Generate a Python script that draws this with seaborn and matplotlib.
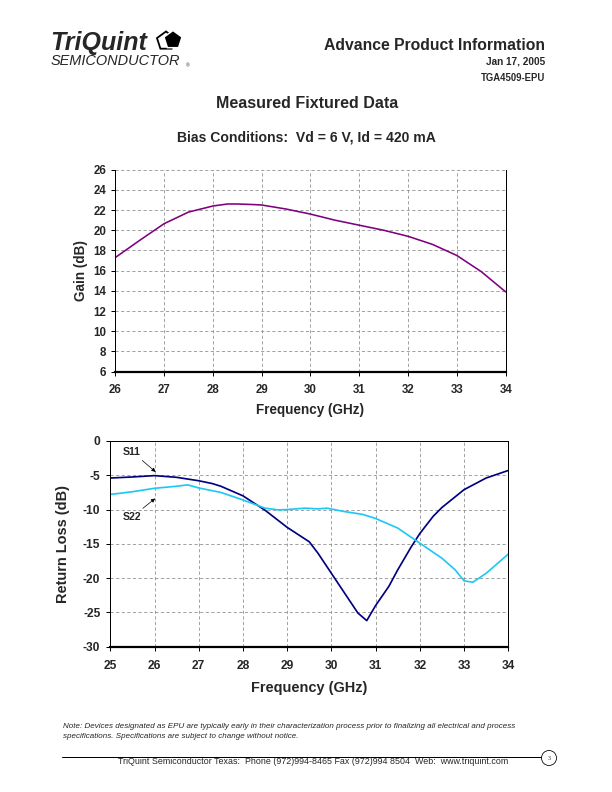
import matplotlib
matplotlib.use("Agg")
import matplotlib.pyplot as plt
import matplotlib.patches as mpatches
import numpy as np
import pandas as pd
import seaborn as sns

# Gain vs frequency (measured fixtured data)
gain_freq = [26.0, 26.5, 27.0, 27.5, 28.0, 28.3, 28.5, 28.8, 29.0, 29.5,
             30.0, 30.5, 31.0, 31.5, 32.0, 32.5, 33.0, 33.5, 34.0]
gain_db = [17.3, 19.0, 20.65, 21.8, 22.4, 22.6, 22.6, 22.55, 22.5, 22.1,
           21.6, 21.0, 20.5, 20.0, 19.4, 18.6, 17.5, 15.9, 13.9]

# Input return loss
s11_freq = [25.0, 25.5, 26.0, 26.5, 27.0, 27.3, 27.5, 28.0, 28.5, 29.0,
            29.5, 29.7, 30.0, 30.3, 30.6, 30.8, 31.0, 31.3, 31.5, 31.8,
            32.0, 32.3, 32.5, 33.0, 33.5, 34.0]
s11_db = [-5.4, -5.25, -5.05, -5.3, -5.8, -6.2, -6.6, -8.0, -10.1, -12.6,
          -14.7, -16.4, -19.3, -22.2, -25.1, -26.2, -24.0, -21.2, -18.8, -15.5,
          -13.5, -11.0, -9.7, -7.1, -5.4, -4.3]

# Output return loss
s22_freq = [25.0, 25.5, 26.0, 26.5, 26.75, 27.0, 27.5, 28.0, 28.5, 28.8,
            29.0, 29.4, 29.7, 29.9, 30.3, 30.7, 31.0, 31.5, 32.0, 32.5,
            32.8, 33.0, 33.2, 33.5, 34.0]
s22_db = [-7.8, -7.4, -6.9, -6.6, -6.4, -6.85, -7.5, -8.6, -9.8, -10.05,
          -10.0, -9.8, -9.9, -9.8, -10.3, -10.7, -11.3, -12.7, -14.9, -17.1,
          -18.8, -20.4, -20.6, -19.3, -16.5]

sns.set_style("white")
plt.rcParams["font.family"] = ["Liberation Sans", "DejaVu Sans"]
plt.rcParams["axes.unicode_minus"] = False

W, H = 612.0, 792.0
fig = plt.figure(figsize=(W / 72, H / 72), dpi=72)


def px(x, y):
    return x / W, 1 - y / H


def style_axes(ax, top_black, labelsize, xpad, ypad):
    ax.grid(True, color="#8c8c8c", linestyle=(0, (4, 3)), linewidth=0.8)
    ax.set_axisbelow(True)
    for side in ["left", "right"]:
        ax.spines[side].set_color("black")
        ax.spines[side].set_linewidth(1.0)
    ax.spines["bottom"].set_color("black")
    ax.spines["bottom"].set_linewidth(2.2)
    ax.spines["top"].set_visible(top_black)
    ax.spines["top"].set_color("black")
    ax.spines["top"].set_linewidth(1.0)
    ax.tick_params(direction="out", length=4, width=1, color="black",
                   labelsize=labelsize, left=True, bottom=True)
    ax.tick_params(axis="x", pad=xpad)
    ax.tick_params(axis="y", pad=ypad)
    for lab in ax.get_xticklabels() + ax.get_yticklabels():
        lab.set_fontweight("bold")


def place_labels(ax, xlab, ylab, size, x_y, y_x):
    ax.set_xlabel(xlab, fontsize=size, fontweight="bold", va="center")
    ax.set_ylabel(ylab, fontsize=size, fontweight="bold", va="center")
    ax.xaxis.set_label_coords(0.5, x_y)
    ax.yaxis.set_label_coords(y_x, 0.5)


# ---- Gain chart ----
ax1 = fig.add_axes([0.1884, 0.5307, 0.6379, 0.2551])
df_gain = pd.DataFrame({"freq": gain_freq, "gain": gain_db})
sns.lineplot(data=df_gain, x="freq", y="gain", color="#800080", lw=1.6, ax=ax1)
ax1.set_xlim(26, 34)
ax1.set_ylim(6, 26)
ax1.set_xticks(np.arange(26, 35, 1))
ax1.set_yticks(np.arange(6, 27, 2))
style_axes(ax1, top_black=False, labelsize=11.5, xpad=8, ypad=5)
place_labels(ax1, "Frequency (GHz)", "Gain (dB)", 13.5, -0.19, -0.088)

# ---- Return loss chart ----
ax2 = fig.add_axes([0.1802, 0.1835, 0.6503, 0.2597])
df_rl = pd.concat([
    pd.DataFrame({"freq": s11_freq, "rl": s11_db, "param": "S11"}),
    pd.DataFrame({"freq": s22_freq, "rl": s22_db, "param": "S22"}),
])
sns.lineplot(data=df_rl, x="freq", y="rl", hue="param",
             palette={"S11": "#000080", "S22": "#1ec8f5"}, lw=1.7,
             legend=False, ax=ax2)
ax2.set_xlim(25, 34)
ax2.set_ylim(-30, 0)
ax2.set_xticks(np.arange(25, 35, 1))
ax2.set_yticks(np.arange(-30, 1, 5))
style_axes(ax2, top_black=True, labelsize=12, xpad=9, ypad=6)
place_labels(ax2, "Frequency (GHz)", "Return Loss (dB)", 14.5, -0.2008, -0.12)

arrow = dict(arrowstyle="-|>", color="black", lw=0.7, mutation_scale=8)
ax2.annotate("S11", xy=(26.06, -4.7), xytext=(25.49, -1.56), fontsize=10.5,
             fontweight="bold", ha="center", va="center", arrowprops=arrow)
ax2.annotate("S22", xy=(26.05, -8.2), xytext=(25.49, -11.1), fontsize=10.5,
             fontweight="bold", ha="center", va="center", arrowprops=arrow)

# ---- Page header / titles ----
fig.text(*px(545, 45), "Advance Product Information", fontsize=15.8,
         fontweight="bold", ha="right", va="center")
fig.text(*px(545, 61), "Jan 17, 2005", fontsize=10, fontweight="bold",
         ha="right", va="center")
fig.text(*px(545, 78), "TGA4509-EPU", fontsize=9.5, fontweight="bold",
         ha="right", va="center")
fig.text(*px(307, 104), "Measured Fixtured Data", fontsize=16,
         fontweight="bold", ha="center", va="center")
fig.text(*px(306, 137), "Bias Conditions:  Vd = 6 V, Id = 420 mA",
         fontsize=14, fontweight="bold", ha="center", va="center")

# logo
fig.text(*px(50, 43), "TriQuint", fontsize=25, fontweight="heavy",
         style="italic", ha="left", va="center")
fig.text(*px(51, 61), "SEMICONDUCTOR", fontsize=14.5, style="italic",
         ha="left", va="center")
fig.text(*px(186, 66), "®", fontsize=5, ha="left", va="center")


def pentagon(cx, cy, r):
    ang = np.pi / 2 + np.arange(5) * 2 * np.pi / 5
    return [px(cx + r * np.cos(a), cy - r * np.sin(a)) for a in ang]


fig.patches.append(mpatches.Polygon(pentagon(166, 41, 9.5), closed=True,
                                    transform=fig.transFigure, facecolor="white",
                                    edgecolor="black", lw=1.8))
fig.patches.append(mpatches.Polygon(pentagon(173, 40, 9.5), closed=True,
                                    transform=fig.transFigure, facecolor="black",
                                    edgecolor="white", lw=1.5))

# ---- Footer ----
fig.text(*px(63, 727), "Note: Devices designated as EPU are typically early in "
         "their characterization process prior to finalizing all electrical "
         "and process", fontsize=8, style="italic", ha="left", va="center")
fig.text(*px(63, 737), "specifications. Specifications are subject to change "
         "without notice.", fontsize=8, style="italic", ha="left", va="center")
fig.add_artist(plt.Line2D([62 / W, 541 / W], [1 - 757 / H, 1 - 757 / H],
                          color="black", lw=1, transform=fig.transFigure))
fig.patches.append(mpatches.Ellipse(px(549, 758), 15 / W, 15 / H,
                                    transform=fig.transFigure, fill=False,
                                    edgecolor="black", lw=0.8))
fig.text(*px(549, 758), "3", fontsize=6, family="Liberation Serif",
         ha="center", va="center")
fig.text(*px(313, 762), "TriQuint Semiconductor Texas:  Phone (972)994-8465 "
         "Fax (972)994 8504  Web:  www.triquint.com", fontsize=8.9,
         ha="center", va="center")

fig.savefig("out.png", dpi=72)
